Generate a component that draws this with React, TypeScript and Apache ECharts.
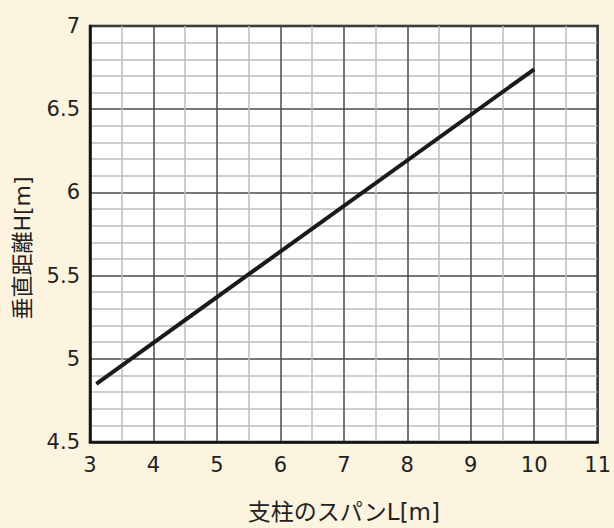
import React, { useEffect, useRef } from "react";
import * as echarts from "echarts";

const spanL: number[] = [3.1, 10];
const heightH: number[] = [4.85, 6.74];
const xName = "支柱のスパンL[m]";
const yName = "垂直距離H[m]";

export default function App() {
  const ref = useRef<HTMLDivElement>(null);
  useEffect(() => {
    if (!ref.current) return;
    const chart = echarts.init(ref.current, undefined, { renderer: "svg" });
    const font = "'DejaVu Sans', 'Noto Sans CJK JP', sans-serif";
    chart.setOption({
      animation: false,
      backgroundColor: "#fdf4e0",
      grid: {
        left: 90,
        right: 13,
        top: 26,
        bottom: 78,
        show: true,
        backgroundColor: "#ffffff",
        borderColor: "#111111",
        borderWidth: 2.5,
      },
      xAxis: {
        type: "value",
        min: 3,
        max: 11,
        interval: 1,
        name: xName,
        nameLocation: "middle",
        nameGap: 58,
        nameTextStyle: { fontSize: 23, color: "#222", fontFamily: font },
        axisLine: { show: true, lineStyle: { color: "#111", width: 2.5 } },
        axisTick: { show: false },
        axisLabel: { margin: 12, fontSize: 21, color: "#222", fontFamily: font },
        splitLine: { show: true, lineStyle: { color: "#4a4a4a", width: 1.5 } },
        minorTick: { show: false, splitNumber: 2 },
        minorSplitLine: { show: true, lineStyle: { color: "#bdbdbd", width: 1.5 } },
      },
      yAxis: {
        type: "value",
        min: 4.5,
        max: 7,
        interval: 0.5,
        name: yName,
        nameLocation: "middle",
        nameGap: 57,
        nameRotate: 90,
        nameTextStyle: {
          fontSize: 22,
          color: "#222",
          fontFamily: font,
          padding: [0, 28, 0, 0],
        },
        axisLine: { show: true, lineStyle: { color: "#111", width: 2.5 } },
        axisTick: { show: false },
        axisLabel: { margin: 10, fontSize: 21, color: "#222", fontFamily: font },
        splitLine: { show: true, lineStyle: { color: "#4a4a4a", width: 1.5 } },
        minorTick: { show: false, splitNumber: 5 },
        minorSplitLine: { show: true, lineStyle: { color: "#bdbdbd", width: 1.5 } },
      },
      series: [
        {
          type: "line",
          data: spanL.map((x, i) => [x, heightH[i]]),
          showSymbol: false,
          lineStyle: { color: "#1a1a1a", width: 4 },
        },
      ],
    });
    return () => chart.dispose();
  }, []);
  return (
    <div
      ref={ref}
      style={{ position: "fixed", left: 0, top: 0, width: 614, height: 528 }}
    />
  );
}
